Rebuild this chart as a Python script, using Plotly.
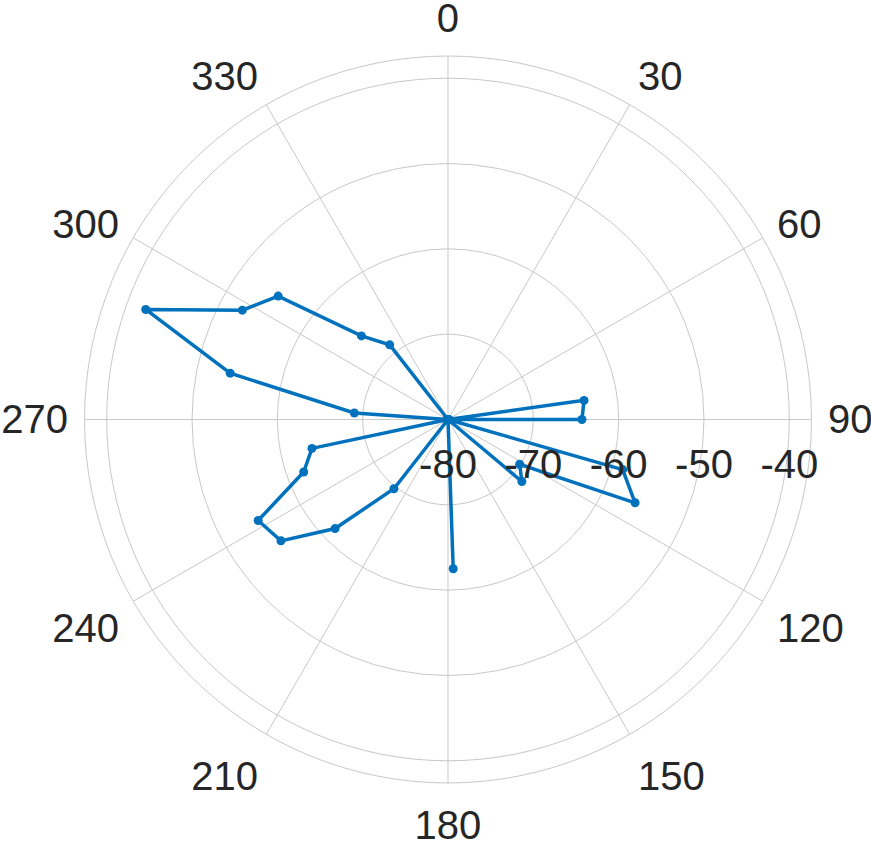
import plotly.graph_objects as go

# 方位角（度，顺时针，0 在正上方），步长 8°
theta_deg = [2, 10, 18, 26, 34, 42, 50, 58, 66, 74, 82, 90, 98, 106, 114,
             122, 130, 138, 146, 154, 162, 170, 178, 186, 194, 202, 210, 218,
             226, 234, 242, 250, 258, 266, 274, 282, 290, 298, 306, 314, 322,
             330, 338, 346, 354]
# 径向值（dB），落在中心的点记为 -80
r_vals = [-80, -80, -80, -80, -80, -80, -80, -80, -80, -80, -63.9, -64.3, -80,
          -58.7, -56.0, -70.1, -68.7, -80, -80, -80, -80, -80, -62.5, -80, -80,
          -80, -80, -69.7, -61.6, -55.8, -54.8, -62.0, -63.7, -80, -69.0, -53.9,
          -42.3, -52.7, -55.4, -65.9, -68.9, -80, -80, -80, -80]

theta_ticks = [0, 30, 60, 90, 120, 150, 180, 210, 240, 270, 300, 330]
r_ticks = [-80, -70, -60, -50, -40]

LINE_C = "#0072BD"
GRID_C = "#c8c8c8"
TEXT_C = "#262626"
FONT = "Liberation Sans, Arial, sans-serif"

fig = go.Figure()
fig.add_trace(go.Scatterpolar(
    r=r_vals,
    theta=theta_deg,
    mode="lines+markers",
    line=dict(color=LINE_C, width=3.5),
    marker=dict(color=LINE_C, size=9),
    showlegend=False,
    cliponaxis=False,
))

fig.update_layout(
    width=871,
    height=841,
    margin=dict(l=0, r=0, t=0, b=0),
    paper_bgcolor="white",
    font=dict(family=FONT, size=40, color=TEXT_C),
    polar=dict(
        domain=dict(x=[0.09701, 0.93169], y=[0.06897, 0.93341]),
        bgcolor="white",
        angularaxis=dict(
            rotation=90,
            direction="clockwise",
            tickmode="array",
            tickvals=theta_ticks,
            ticktext=[str(t) for t in theta_ticks],
            showgrid=True,
            gridcolor=GRID_C,
            gridwidth=1,
            showline=True,
            linecolor=GRID_C,
            linewidth=1,
            ticks="outside",
            ticklen=8,
            tickcolor="rgba(0,0,0,0)",
            tickfont=dict(family=FONT, size=40, color=TEXT_C),
        ),
        radialaxis=dict(
            range=[-80, -37.4],
            tickmode="array",
            tickvals=r_ticks,
            ticktext=[str(t) for t in r_ticks],
            angle=0,
            tickangle=0,
            side="clockwise",
            showline=False,
            ticks="outside",
            ticklen=10,
            tickcolor="rgba(0,0,0,0)",
            showgrid=True,
            gridcolor=GRID_C,
            gridwidth=1,
            tickfont=dict(family=FONT, size=40, color=TEXT_C),
        ),
    ),
)

# 去掉页面 body 的默认边距，使图形贴齐窗口左上角
fig.write_html(
    "out.html",
    config={"displayModeBar": False},
    post_script="document.body.style.margin='0';",
)
